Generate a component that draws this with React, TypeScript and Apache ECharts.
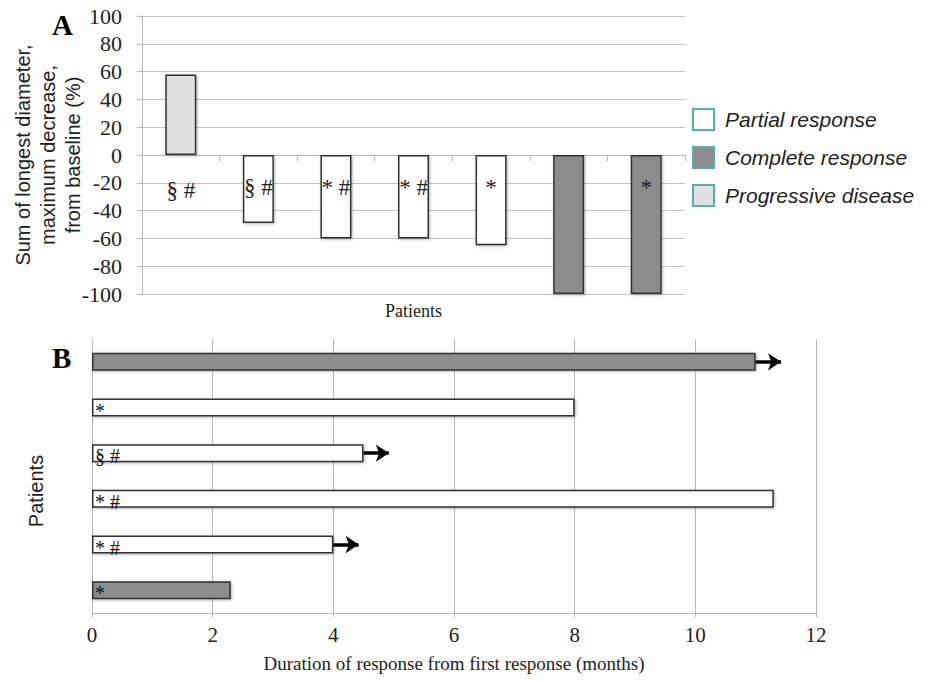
import React, { useEffect, useRef } from "react";
import * as echarts from "echarts";

// Panel A data
const patientsA = ["1", "2", "3", "4", "5", "6", "7"];
const changeA = [58, -49, -60, -60, -65, -100, -100];
const responseA = ["PD", "PR", "PR", "PR", "PR", "CR", "CR"];
const markersA = ["§ #", "§ #", "* #", "* #", "*", "", "*"];
const yTicksA = { min: -100, max: 100, interval: 20 };

// Panel B data (top to bottom)
const patientsB = ["P1", "P2", "P3", "P4", "P5", "P6"];
const durationB = [11.0, 8.0, 4.5, 11.3, 4.0, 2.3];
const responseB = ["CR", "PR", "PR", "PR", "PR", "CR"];
const markersB = ["", "*", "§ #", "* #", "* #", "*"];
const ongoingB = [true, false, true, false, true, false];
const xTicksB = { min: 0, max: 12, interval: 2 };

const legendNames: Record<string, string> = {
  PR: "Partial response",
  CR: "Complete response",
  PD: "Progressive disease",
};
const fillColors: Record<string, string> = {
  PR: "#ffffff",
  CR: "#8c8c8c",
  PD: "#e0e0e0",
};

const SERIF = "'Liberation Serif', 'Times New Roman', serif";
const SANS = "'Liberation Sans', Arial, sans-serif";
const GRID_COLOR = "#c4c4c4";
const BORDER = "#333333";

export default function App() {
  const ref = useRef<HTMLDivElement>(null);

  useEffect(() => {
    if (!ref.current) return;
    const chart = echarts.init(ref.current, undefined, { renderer: "svg" });

    const barStyleBase = {
      borderColor: BORDER,
      borderWidth: 1.5,
      shadowColor: "rgba(0,0,0,0.3)",
      shadowBlur: 3,
      shadowOffsetX: 1,
      shadowOffsetY: 1,
    };

    const seriesA = ["PR", "CR", "PD"].map((type) => ({
      type: "bar",
      name: legendNames[type],
      xAxisIndex: 0,
      yAxisIndex: 0,
      stack: "a",
      barWidth: 31,
      itemStyle: { ...barStyleBase, color: fillColors[type] },
      data: changeA.map((v, i) => {
        if (responseA[i] !== type) return "-";
        const positive = v > 0;
        return {
          value: v,
          label: {
            show: markersA[i] !== "",
            formatter: markersA[i],
            position: positive ? "bottom" : "insideTop",
            distance: positive ? 24 : 21,
            fontFamily: SERIF,
            fontSize: 23,
            color: "#222",
          },
        };
      }),
    }));

    const seriesB = {
      type: "bar",
      name: "Duration",
      xAxisIndex: 1,
      yAxisIndex: 1,
      barWidth: 18,
      data: durationB.map((v, i) => ({
        value: v,
        itemStyle: { ...barStyleBase, color: fillColors[responseB[i]] },
        label: {
          show: markersB[i] !== "",
          formatter: markersB[i],
          position: "insideLeft",
          distance: 3,
          offset: [0, 3],
          fontFamily: SERIF,
          fontSize: 20,
          color: "#111",
        },
      })),
      markLine: {
        silent: true,
        animation: false,
        symbol: ["none", "arrow"],
        symbolSize: [13, 13],
        label: { show: false },
        lineStyle: { color: "#000", width: 3.5, type: "solid" },
        data: durationB
          .map((v, i) =>
            ongoingB[i]
              ? [
                  { coord: [v + 0.0, patientsB[i]] },
                  { coord: [v + 0.42, patientsB[i]] },
                ]
              : null
          )
          .filter((d) => d !== null),
      },
    };

    chart.setOption({
      animation: false,
      backgroundColor: "#ffffff",
      textStyle: { fontFamily: SERIF },
      legend: {
        orient: "vertical",
        left: 692,
        top: 108,
        padding: 0,
        itemWidth: 21,
        itemHeight: 21,
        itemGap: 15,
        icon: "rect",
        selectedMode: false,
        data: ["Partial response", "Complete response", "Progressive disease"],
        itemStyle: { borderColor: "#52b5a2", borderWidth: 2, shadowBlur: 0 },
        textStyle: {
          fontFamily: SANS,
          fontStyle: "italic",
          fontSize: 21,
          color: "#222",
          padding: [0, 0, 0, 6],
        },
      },
      grid: [
        {
          left: 142,
          right: 245,
          top: 16,
          bottom: 388,
          containLabel: false,
          outerBoundsMode: "none",
        },
        {
          left: 92,
          right: 114,
          top: 339,
          bottom: 69,
          containLabel: false,
          outerBoundsMode: "none",
        },
      ],
      xAxis: [
        {
          type: "category",
          gridIndex: 0,
          data: patientsA,
          axisLine: { onZero: true, lineStyle: { color: "#b8b8b8", width: 1 } },
          axisTick: { show: true, length: 6, lineStyle: { color: "#b8b8b8" } },
          axisLabel: { show: false },
          splitLine: { show: false },
          name: "Patients",
          nameLocation: "middle",
          nameGap: 8,
          nameMoveOverlap: false,
          nameTextStyle: { fontFamily: SERIF, fontSize: 18, color: "#222" },
        },
        {
          type: "value",
          gridIndex: 1,
          min: xTicksB.min,
          max: xTicksB.max,
          interval: xTicksB.interval,
          axisLine: { show: true, lineStyle: { color: "#b8b8b8" } },
          axisTick: { show: true, length: 4, lineStyle: { color: "#b8b8b8" } },
          axisLabel: { fontFamily: SERIF, fontSize: 21, color: "#222", margin: 11 },
          splitLine: { show: true, lineStyle: { color: "#b8b8b8", width: 1 } },
          name: "Duration of response from first response (months)",
          nameLocation: "middle",
          nameGap: 41,
          nameMoveOverlap: false,
          nameTextStyle: { fontFamily: SERIF, fontSize: 19, color: "#222" },
        },
      ],
      yAxis: [
        {
          type: "value",
          gridIndex: 0,
          min: yTicksA.min,
          max: yTicksA.max,
          interval: yTicksA.interval,
          axisLine: { show: true, lineStyle: { color: "#b8b8b8" } },
          axisTick: { show: true, length: 5, lineStyle: { color: "#b8b8b8" } },
          axisLabel: { fontFamily: SERIF, fontSize: 22, color: "#222", margin: 20 },
          splitLine: { show: true, lineStyle: { color: GRID_COLOR, width: 1 } },
          name: "Sum of longest diameter,\nmaximum decrease,\nfrom baseline (%)",
          nameLocation: "middle",
          nameRotate: 90,
          nameGap: 57,
          nameMoveOverlap: false,
          nameTextStyle: {
            fontFamily: SANS,
            fontSize: 20,
            color: "#222",
            lineHeight: 25,
          },
        },
        {
          type: "category",
          gridIndex: 1,
          data: patientsB,
          inverse: true,
          axisLine: { show: true, lineStyle: { color: "#b8b8b8" } },
          axisTick: { show: false },
          axisLabel: { show: false },
          splitLine: { show: false },
        },
      ],
      graphic: [
        {
          type: "text",
          left: 52,
          top: 10,
          style: {
            text: "A",
            fontFamily: SERIF,
            fontWeight: "bold",
            fontSize: 29,
            fill: "#000",
          },
        },
        {
          type: "text",
          left: 52,
          top: 343,
          style: {
            text: "B",
            fontFamily: SERIF,
            fontWeight: "bold",
            fontSize: 29,
            fill: "#000",
          },
        },
        {
          type: "text",
          x: 36,
          y: 491,
          rotation: Math.PI / 2,
          style: {
            text: "Patients",
            fontFamily: SANS,
            fontSize: 20,
            fill: "#222",
            align: "center",
            verticalAlign: "middle",
          },
        },
      ],
      series: [...seriesA, seriesB],
    });

    return () => chart.dispose();
  }, []);

  return (
    <div
      ref={ref}
      style={{ position: "fixed", left: 0, top: 0, width: 930, height: 682 }}
    />
  );
}
